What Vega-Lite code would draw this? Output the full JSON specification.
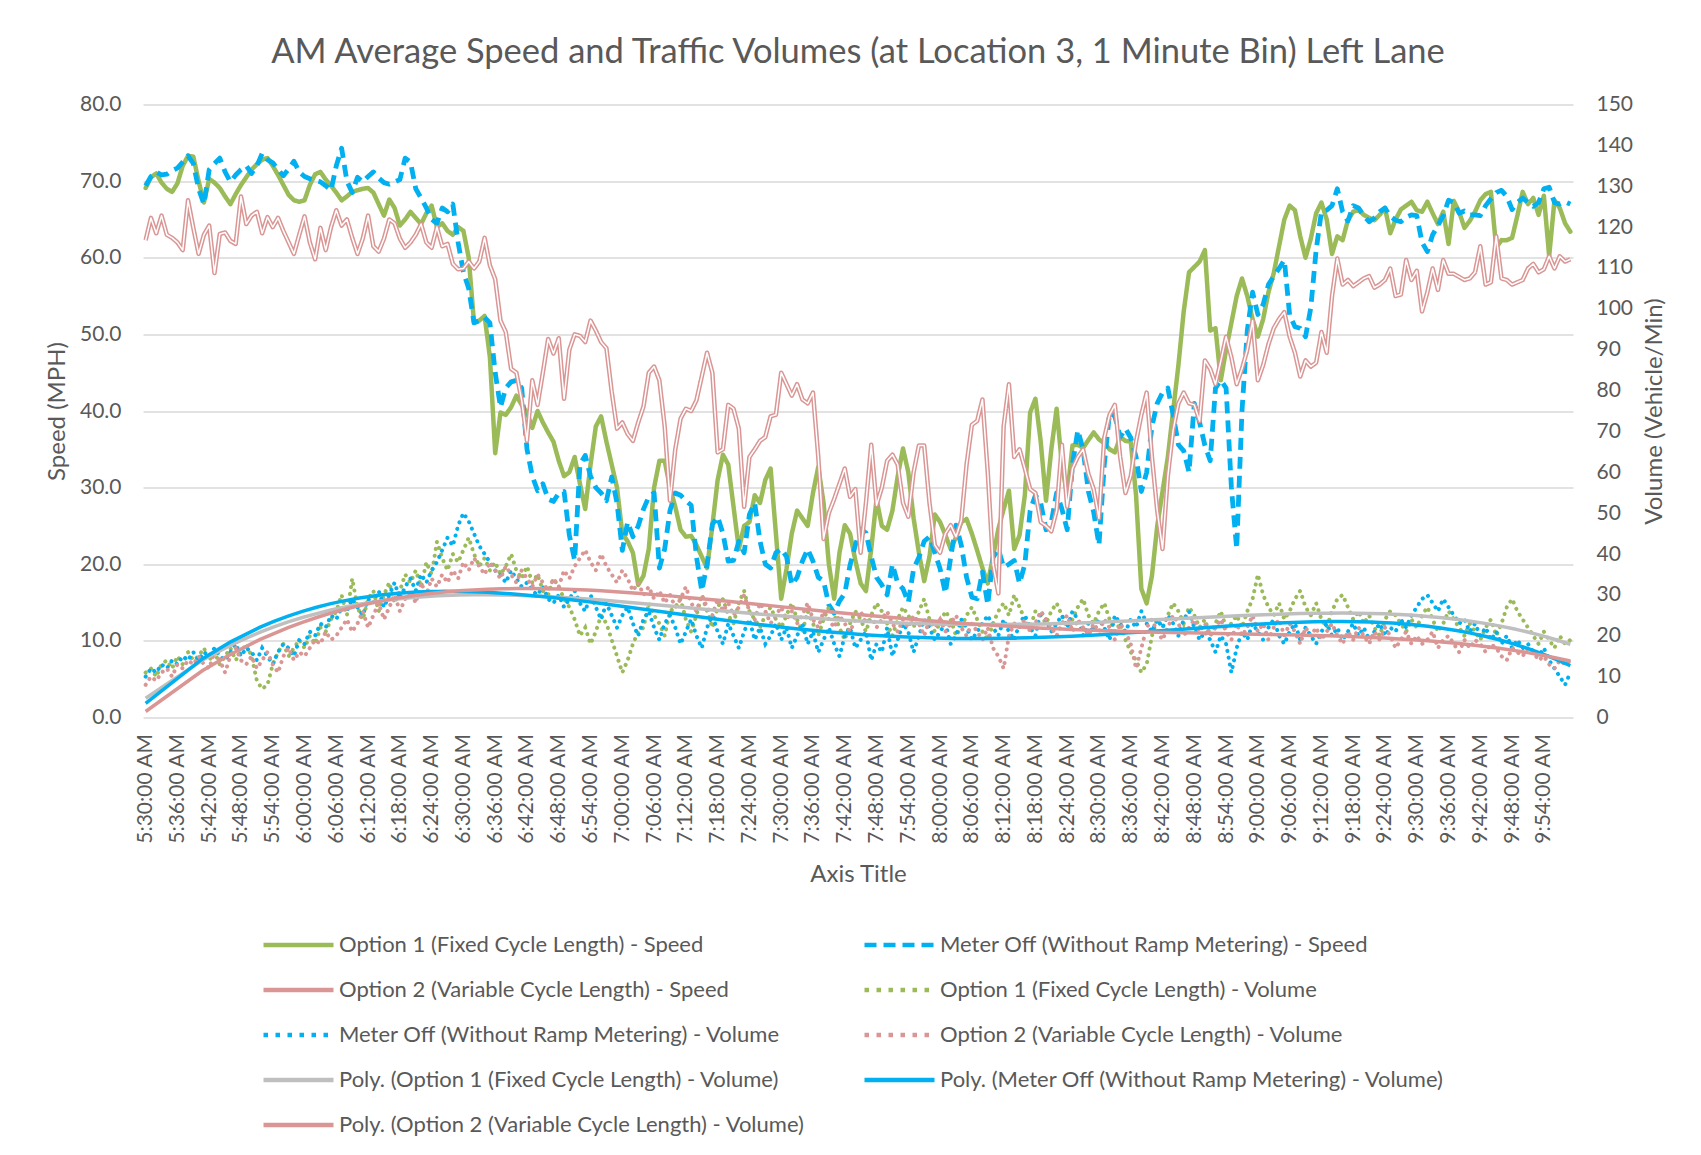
{
"$schema": "https://vega.github.io/schema/vega-lite/v6.json",
"width": 1430,
"height": 613,
"autosize": {"type": "none"},
"padding": {"left": 143, "top": 104.5, "right": 128, "bottom": 437.5},
"background": "#ffffff",
"title": {"text": "AM Average Speed and Traffic Volumes (at Location 3, 1 Minute Bin) Left Lane", "font": "Lato", "fontSize": 34.5, "fontWeight": "normal", "color": "#595959", "anchor": "middle", "frame": "group", "offset": 23},
"config": {
  "view": {"stroke": null},
  "font": "Lato",
  "axis": {"labelFont": "Lato", "titleFont": "Lato", "labelColor": "#595959", "titleColor": "#595959", "labelFontSize": 21, "titleFontSize": 24, "titleFontWeight": "normal"}
},
"data": {"values": [
{"m":0,"a":69.1,"b":69.4,"c":62.3,"p":11,"q":10,"r":8},
{"m":1,"a":70.5,"b":70.6,"c":65.2,"p":12,"q":12,"r":10},
{"m":2,"a":71.0,"b":71.2,"c":63.2,"p":10,"q":11,"r":9},
{"m":3,"a":69.8,"b":70.8,"c":65.5,"p":13,"q":13,"r":11},
{"m":4,"a":69.0,"b":70.9,"c":63.0,"p":14,"q":12,"r":12},
{"m":5,"a":68.6,"b":71.4,"c":62.6,"p":12,"q":14,"r":10},
{"m":6,"a":69.7,"b":71.7,"c":62.0,"p":15,"q":13,"r":13},
{"m":7,"a":72.0,"b":72.5,"c":61.0,"p":13,"q":15,"r":12},
{"m":8,"a":73.3,"b":73.3,"c":67.5,"p":16,"q":14,"r":14},
{"m":9,"a":73.2,"b":72.3,"c":63.9,"p":14,"q":16,"r":13},
{"m":10,"a":70.0,"b":69.0,"c":60.5,"p":15,"q":14,"r":15},
{"m":11,"a":67.2,"b":67.0,"c":63.0,"p":17,"q":16,"r":13},
{"m":12,"a":70.3,"b":71.5,"c":64.2,"p":14,"q":15,"r":12},
{"m":13,"a":69.8,"b":72.3,"c":58.0,"p":16,"q":17,"r":16},
{"m":14,"a":69.1,"b":73.0,"c":63.1,"p":13,"q":15,"r":14},
{"m":15,"a":68.0,"b":71.2,"c":63.3,"p":15,"q":14,"r":11},
{"m":16,"a":67.0,"b":69.9,"c":62.2,"p":17,"q":16,"r":15},
{"m":17,"a":68.3,"b":70.8,"c":61.8,"p":14,"q":18,"r":17},
{"m":18,"a":69.5,"b":71.5,"c":68.0,"p":16,"q":15,"r":14},
{"m":19,"a":70.5,"b":72.0,"c":64.4,"p":18,"q":17,"r":13},
{"m":20,"a":71.5,"b":71.0,"c":65.5,"p":15,"q":16,"r":15},
{"m":21,"a":72.2,"b":72.0,"c":66.0,"p":9,"q":14,"r":12},
{"m":22,"a":72.8,"b":73.6,"c":63.2,"p":7,"q":17,"r":14},
{"m":23,"a":73.0,"b":72.8,"c":65.3,"p":8,"q":15,"r":16},
{"m":24,"a":72.0,"b":72.4,"c":64.0,"p":13,"q":13,"r":13},
{"m":25,"a":70.8,"b":71.5,"c":65.2,"p":16,"q":16,"r":11},
{"m":26,"a":69.5,"b":70.7,"c":63.5,"p":18,"q":18,"r":15},
{"m":27,"a":68.2,"b":71.6,"c":62.0,"p":15,"q":17,"r":17},
{"m":28,"a":67.5,"b":72.6,"c":60.5,"p":17,"q":15,"r":14},
{"m":29,"a":67.3,"b":71.2,"c":63.0,"p":19,"q":19,"r":16},
{"m":30,"a":67.5,"b":70.6,"c":65.4,"p":17,"q":18,"r":15},
{"m":31,"a":69.5,"b":70.3,"c":62.0,"p":20,"q":21,"r":17},
{"m":32,"a":70.9,"b":70.1,"c":59.8,"p":18,"q":20,"r":19},
{"m":33,"a":71.2,"b":69.9,"c":63.9,"p":22,"q":23,"r":18},
{"m":34,"a":70.2,"b":69.4,"c":61.0,"p":21,"q":22,"r":21},
{"m":35,"a":69.4,"b":68.8,"c":64.0,"p":24,"q":25,"r":19},
{"m":36,"a":68.5,"b":72.0,"c":66.2,"p":26,"q":24,"r":20},
{"m":37,"a":67.5,"b":74.3,"c":64.2,"p":30,"q":27,"r":22},
{"m":38,"a":68.0,"b":70.0,"c":65.0,"p":25,"q":26,"r":24},
{"m":39,"a":68.6,"b":68.5,"c":62.6,"p":34,"q":29,"r":21},
{"m":40,"a":68.8,"b":70.5,"c":60.5,"p":27,"q":27,"r":23},
{"m":41,"a":69.0,"b":69.9,"c":62.5,"p":24,"q":25,"r":26},
{"m":42,"a":69.1,"b":70.6,"c":65.5,"p":29,"q":29,"r":22},
{"m":43,"a":68.5,"b":71.2,"c":61.5,"p":31,"q":28,"r":25},
{"m":44,"a":67.0,"b":70.4,"c":60.8,"p":26,"q":31,"r":28},
{"m":45,"a":65.5,"b":69.8,"c":62.5,"p":30,"q":27,"r":24},
{"m":46,"a":67.6,"b":69.6,"c":65.0,"p":33,"q":30,"r":27},
{"m":47,"a":66.5,"b":69.9,"c":64.5,"p":28,"q":33,"r":30},
{"m":48,"a":64.2,"b":70.2,"c":62.5,"p":31,"q":29,"r":26},
{"m":49,"a":65.0,"b":73.0,"c":61.3,"p":35,"q":32,"r":29},
{"m":50,"a":66.0,"b":72.5,"c":62.0,"p":33,"q":34,"r":31},
{"m":51,"a":65.2,"b":69.0,"c":63.0,"p":36,"q":31,"r":28},
{"m":52,"a":64.4,"b":67.8,"c":64.4,"p":32,"q":35,"r":33},
{"m":53,"a":65.8,"b":66.5,"c":62.0,"p":38,"q":33,"r":30},
{"m":54,"a":66.8,"b":65.0,"c":61.3,"p":35,"q":36,"r":34},
{"m":55,"a":64.0,"b":64.5,"c":64.0,"p":43,"q":38,"r":32},
{"m":56,"a":64.5,"b":66.5,"c":61.5,"p":39,"q":41,"r":35},
{"m":57,"a":63.5,"b":66.0,"c":61.8,"p":36,"q":44,"r":33},
{"m":58,"a":63.0,"b":67.0,"c":59.2,"p":40,"q":42,"r":36},
{"m":59,"a":64.0,"b":62.0,"c":58.5,"p":38,"q":47,"r":34},
{"m":60,"a":63.5,"b":58.1,"c":58.6,"p":41,"q":50,"r":38},
{"m":61,"a":60.0,"b":56.0,"c":59.5,"p":44,"q":48,"r":36},
{"m":62,"a":51.5,"b":51.5,"c":58.6,"p":40,"q":45,"r":39},
{"m":63,"a":51.8,"b":51.8,"c":59.5,"p":37,"q":42,"r":37},
{"m":64,"a":52.4,"b":52.2,"c":62.6,"p":39,"q":40,"r":35},
{"m":65,"a":47.0,"b":51.5,"c":59.0,"p":36,"q":38,"r":38},
{"m":66,"a":34.5,"b":45.0,"c":57.2,"p":38,"q":36,"r":36},
{"m":67,"a":39.8,"b":40.5,"c":51.8,"p":35,"q":35,"r":34},
{"m":68,"a":39.5,"b":43.0,"c":50.3,"p":37,"q":33,"r":37},
{"m":69,"a":40.5,"b":43.8,"c":45.5,"p":40,"q":36,"r":35},
{"m":70,"a":42.0,"b":44.0,"c":45.0,"p":36,"q":34,"r":33},
{"m":71,"a":40.8,"b":43.0,"c":41.4,"p":34,"q":32,"r":36},
{"m":72,"a":39.8,"b":35.0,"c":36.1,"p":37,"q":33,"r":34},
{"m":73,"a":37.8,"b":31.5,"c":44.0,"p":33,"q":31,"r":32},
{"m":74,"a":40.0,"b":29.6,"c":40.8,"p":35,"q":30,"r":35},
{"m":75,"a":38.5,"b":30.5,"c":45.0,"p":31,"q":32,"r":33},
{"m":76,"a":37.2,"b":28.5,"c":49.4,"p":30,"q":29,"r":31},
{"m":77,"a":36.0,"b":28.2,"c":47.5,"p":34,"q":28,"r":34},
{"m":78,"a":33.5,"b":29.3,"c":49.5,"p":32,"q":30,"r":32},
{"m":79,"a":31.5,"b":29.5,"c":41.6,"p":29,"q":27,"r":36},
{"m":80,"a":32.0,"b":23.8,"c":48.0,"p":27,"q":29,"r":34},
{"m":81,"a":34.0,"b":20.5,"c":50.0,"p":24,"q":31,"r":37},
{"m":82,"a":30.5,"b":33.0,"c":49.8,"p":20,"q":28,"r":39},
{"m":83,"a":27.2,"b":34.2,"c":49.0,"p":22,"q":26,"r":41},
{"m":84,"a":33.0,"b":31.5,"c":51.8,"p":18,"q":30,"r":38},
{"m":85,"a":38.0,"b":30.0,"c":50.5,"p":21,"q":27,"r":36},
{"m":86,"a":39.3,"b":29.3,"c":49.0,"p":25,"q":24,"r":40},
{"m":87,"a":36.0,"b":28.3,"c":48.2,"p":23,"q":28,"r":37},
{"m":88,"a":33.0,"b":31.4,"c":42.5,"p":19,"q":25,"r":35},
{"m":89,"a":30.0,"b":28.0,"c":37.7,"p":15,"q":22,"r":33},
{"m":90,"a":24.0,"b":21.8,"c":38.5,"p":11,"q":25,"r":36},
{"m":91,"a":23.0,"b":25.5,"c":37.0,"p":14,"q":27,"r":34},
{"m":92,"a":21.5,"b":23.6,"c":36.1,"p":18,"q":23,"r":31},
{"m":93,"a":17.3,"b":25.0,"c":38.5,"p":21,"q":20,"r":33},
{"m":94,"a":18.5,"b":27.2,"c":40.6,"p":22,"q":24,"r":30},
{"m":95,"a":22.0,"b":28.8,"c":45.0,"p":28,"q":26,"r":32},
{"m":96,"a":30.0,"b":29.3,"c":45.8,"p":25,"q":22,"r":29},
{"m":97,"a":33.5,"b":19.5,"c":44.0,"p":23,"q":19,"r":31},
{"m":98,"a":33.5,"b":22.0,"c":38.0,"p":20,"q":23,"r":28},
{"m":99,"a":30.0,"b":27.0,"c":28.3,"p":26,"q":25,"r":30},
{"m":100,"a":27.5,"b":29.3,"c":35.0,"p":27,"q":22,"r":27},
{"m":101,"a":24.5,"b":29.0,"c":39.0,"p":29,"q":18,"r":29},
{"m":102,"a":23.6,"b":28.3,"c":40.3,"p":24,"q":21,"r":32},
{"m":103,"a":23.7,"b":27.7,"c":40.0,"p":21,"q":24,"r":28},
{"m":104,"a":22.5,"b":21.0,"c":41.4,"p":25,"q":20,"r":26},
{"m":105,"a":21.0,"b":16.5,"c":44.5,"p":30,"q":17,"r":30},
{"m":106,"a":19.5,"b":20.0,"c":47.6,"p":26,"q":22,"r":27},
{"m":107,"a":25.0,"b":25.2,"c":45.0,"p":22,"q":25,"r":25},
{"m":108,"a":31.0,"b":26.2,"c":34.6,"p":27,"q":21,"r":29},
{"m":109,"a":34.3,"b":24.0,"c":35.0,"p":29,"q":18,"r":26},
{"m":110,"a":33.0,"b":20.4,"c":40.8,"p":25,"q":23,"r":28},
{"m":111,"a":27.5,"b":20.5,"c":40.3,"p":23,"q":20,"r":25},
{"m":112,"a":22.0,"b":23.0,"c":37.7,"p":28,"q":17,"r":27},
{"m":113,"a":25.0,"b":21.5,"c":27.5,"p":31,"q":21,"r":30},
{"m":114,"a":25.5,"b":26.5,"c":34.0,"p":26,"q":24,"r":26},
{"m":115,"a":29.0,"b":28.0,"c":35.0,"p":24,"q":19,"r":24},
{"m":116,"a":28.0,"b":23.0,"c":36.1,"p":22,"q":22,"r":28},
{"m":117,"a":31.0,"b":20.0,"c":36.6,"p":25,"q":18,"r":26},
{"m":118,"a":32.5,"b":19.5,"c":39.3,"p":27,"q":20,"r":23},
{"m":119,"a":24.0,"b":21.5,"c":39.5,"p":24,"q":23,"r":25},
{"m":120,"a":15.5,"b":22.0,"c":45.0,"p":22,"q":19,"r":27},
{"m":121,"a":19.4,"b":21.0,"c":43.5,"p":25,"q":22,"r":24},
{"m":122,"a":24.0,"b":17.3,"c":42.0,"p":28,"q":17,"r":26},
{"m":123,"a":27.0,"b":18.3,"c":43.5,"p":24,"q":20,"r":23},
{"m":124,"a":26.0,"b":20.4,"c":41.5,"p":21,"q":23,"r":25},
{"m":125,"a":25.0,"b":22.0,"c":41.0,"p":26,"q":18,"r":28},
{"m":126,"a":29.3,"b":20.4,"c":42.4,"p":23,"q":21,"r":24},
{"m":127,"a":32.7,"b":18.3,"c":34.0,"p":20,"q":16,"r":22},
{"m":128,"a":28.0,"b":17.8,"c":23.3,"p":24,"q":19,"r":26},
{"m":129,"a":20.0,"b":14.7,"c":26.7,"p":27,"q":22,"r":24},
{"m":130,"a":15.5,"b":13.6,"c":28.5,"p":25,"q":18,"r":22},
{"m":131,"a":21.5,"b":15.2,"c":30.5,"p":22,"q":15,"r":25},
{"m":132,"a":25.1,"b":16.2,"c":32.5,"p":19,"q":20,"r":23},
{"m":133,"a":24.0,"b":19.9,"c":28.8,"p":23,"q":22,"r":21},
{"m":134,"a":20.5,"b":22.5,"c":29.8,"p":26,"q":17,"r":24},
{"m":135,"a":17.5,"b":24.6,"c":21.5,"p":24,"q":19,"r":26},
{"m":136,"a":16.5,"b":24.1,"c":28.0,"p":21,"q":21,"r":23},
{"m":137,"a":22.0,"b":21.0,"c":35.6,"p":25,"q":14,"r":25},
{"m":138,"a":28.5,"b":18.3,"c":27.7,"p":28,"q":18,"r":22},
{"m":139,"a":25.0,"b":17.3,"c":30.0,"p":26,"q":16,"r":24},
{"m":140,"a":24.5,"b":16.0,"c":33.5,"p":23,"q":22,"r":26},
{"m":141,"a":27.0,"b":20.0,"c":34.3,"p":20,"q":15,"r":23},
{"m":142,"a":31.5,"b":17.5,"c":33.0,"p":24,"q":19,"r":21},
{"m":143,"a":35.1,"b":16.8,"c":28.0,"p":27,"q":23,"r":24},
{"m":144,"a":32.0,"b":15.0,"c":26.2,"p":25,"q":21,"r":22},
{"m":145,"a":26.0,"b":19.4,"c":32.0,"p":22,"q":16,"r":25},
{"m":146,"a":21.5,"b":20.9,"c":35.5,"p":26,"q":20,"r":23},
{"m":147,"a":17.8,"b":23.0,"c":35.5,"p":29,"q":24,"r":20},
{"m":148,"a":21.0,"b":23.6,"c":28.0,"p":24,"q":22,"r":24},
{"m":149,"a":26.5,"b":21.5,"c":22.5,"p":21,"q":19,"r":22},
{"m":150,"a":25.5,"b":19.4,"c":21.5,"p":23,"q":21,"r":24},
{"m":151,"a":23.8,"b":16.2,"c":24.0,"p":26,"q":23,"r":21},
{"m":152,"a":22.0,"b":20.9,"c":25.1,"p":24,"q":18,"r":23},
{"m":153,"a":23.5,"b":25.1,"c":23.6,"p":20,"q":20,"r":25},
{"m":154,"a":25.5,"b":22.5,"c":25.7,"p":22,"q":24,"r":22},
{"m":155,"a":25.9,"b":18.3,"c":33.0,"p":25,"q":22,"r":20},
{"m":156,"a":24.0,"b":15.7,"c":38.2,"p":27,"q":19,"r":23},
{"m":157,"a":21.8,"b":15.5,"c":38.7,"p":24,"q":21,"r":21},
{"m":158,"a":19.5,"b":19.0,"c":41.5,"p":21,"q":23,"r":19},
{"m":159,"a":17.5,"b":14.7,"c":32.0,"p":19,"q":25,"r":22},
{"m":160,"a":21.0,"b":20.9,"c":20.0,"p":23,"q":22,"r":17},
{"m":161,"a":24.6,"b":22.0,"c":16.2,"p":26,"q":20,"r":15},
{"m":162,"a":27.2,"b":19.6,"c":38.0,"p":28,"q":24,"r":12},
{"m":163,"a":29.6,"b":20.0,"c":43.5,"p":25,"q":21,"r":20},
{"m":164,"a":22.0,"b":20.5,"c":34.0,"p":30,"q":19,"r":23},
{"m":165,"a":23.8,"b":17.5,"c":35.0,"p":27,"q":23,"r":22},
{"m":166,"a":29.0,"b":20.0,"c":32.5,"p":24,"q":25,"r":24},
{"m":167,"a":39.8,"b":27.0,"c":29.8,"p":22,"q":22,"r":21},
{"m":168,"a":41.6,"b":29.0,"c":29.3,"p":26,"q":20,"r":23},
{"m":169,"a":36.0,"b":28.0,"c":25.5,"p":25,"q":26,"r":26},
{"m":170,"a":28.3,"b":24.5,"c":25.0,"p":23,"q":24,"r":24},
{"m":171,"a":35.0,"b":25.5,"c":24.3,"p":26,"q":21,"r":22},
{"m":172,"a":40.3,"b":29.3,"c":27.0,"p":28,"q":23,"r":20},
{"m":173,"a":33.0,"b":27.2,"c":35.6,"p":25,"q":25,"r":23},
{"m":174,"a":29.0,"b":24.5,"c":27.5,"p":22,"q":22,"r":25},
{"m":175,"a":35.5,"b":33.0,"c":32.5,"p":24,"q":26,"r":21},
{"m":176,"a":35.6,"b":37.5,"c":34.0,"p":27,"q":24,"r":24},
{"m":177,"a":35.2,"b":35.0,"c":35.0,"p":29,"q":20,"r":22},
{"m":178,"a":36.2,"b":29.5,"c":31.8,"p":25,"q":23,"r":20},
{"m":179,"a":37.2,"b":26.8,"c":29.8,"p":23,"q":21,"r":23},
{"m":180,"a":36.3,"b":22.5,"c":26.0,"p":26,"q":24,"r":21},
{"m":181,"a":35.8,"b":33.0,"c":36.5,"p":28,"q":22,"r":24},
{"m":182,"a":35.0,"b":39.8,"c":39.5,"p":24,"q":19,"r":22},
{"m":183,"a":34.6,"b":39.3,"c":40.8,"p":21,"q":25,"r":19},
{"m":184,"a":36.6,"b":36.6,"c":34.0,"p":23,"q":23,"r":23},
{"m":185,"a":36.1,"b":37.7,"c":29.3,"p":19,"q":21,"r":21},
{"m":186,"a":36.0,"b":36.5,"c":31.5,"p":16,"q":24,"r":18},
{"m":187,"a":29.0,"b":34.0,"c":36.0,"p":14,"q":22,"r":12},
{"m":188,"a":16.8,"b":29.5,"c":39.5,"p":11,"q":26,"r":17},
{"m":189,"a":14.9,"b":32.0,"c":42.4,"p":13,"q":23,"r":22},
{"m":190,"a":18.5,"b":38.0,"c":34.0,"p":20,"q":21,"r":24},
{"m":191,"a":25.0,"b":41.0,"c":27.0,"p":24,"q":24,"r":21},
{"m":192,"a":29.5,"b":42.4,"c":22.0,"p":22,"q":22,"r":19},
{"m":193,"a":34.0,"b":43.0,"c":31.5,"p":25,"q":25,"r":22},
{"m":194,"a":40.0,"b":39.5,"c":37.5,"p":28,"q":23,"r":25},
{"m":195,"a":46.0,"b":35.6,"c":41.0,"p":26,"q":20,"r":23},
{"m":196,"a":53.0,"b":34.8,"c":42.4,"p":23,"q":24,"r":20},
{"m":197,"a":58.1,"b":32.0,"c":41.0,"p":27,"q":26,"r":22},
{"m":198,"a":58.8,"b":41.0,"c":40.8,"p":25,"q":22,"r":24},
{"m":199,"a":59.5,"b":38.5,"c":38.7,"p":22,"q":19,"r":21},
{"m":200,"a":61.0,"b":35.5,"c":46.6,"p":24,"q":21,"r":23},
{"m":201,"a":50.5,"b":33.5,"c":45.5,"p":20,"q":19,"r":20},
{"m":202,"a":50.8,"b":43.0,"c":43.5,"p":23,"q":16,"r":22},
{"m":203,"a":44.0,"b":44.0,"c":46.5,"p":26,"q":20,"r":24},
{"m":204,"a":48.0,"b":43.0,"c":49.7,"p":22,"q":18,"r":21},
{"m":205,"a":51.5,"b":30.0,"c":47.0,"p":23,"q":11,"r":19},
{"m":206,"a":55.0,"b":22.0,"c":43.5,"p":25,"q":17,"r":23},
{"m":207,"a":57.3,"b":40.0,"c":45.5,"p":22,"q":21,"r":20},
{"m":208,"a":55.0,"b":50.5,"c":48.0,"p":26,"q":19,"r":22},
{"m":209,"a":52.0,"b":55.5,"c":51.8,"p":29,"q":23,"r":25},
{"m":210,"a":49.7,"b":52.6,"c":44.0,"p":35,"q":21,"r":21},
{"m":211,"a":52.0,"b":53.9,"c":46.0,"p":30,"q":19,"r":23},
{"m":212,"a":55.5,"b":56.5,"c":48.7,"p":27,"q":22,"r":19},
{"m":213,"a":58.0,"b":57.6,"c":50.8,"p":25,"q":24,"r":22},
{"m":214,"a":61.5,"b":58.6,"c":52.0,"p":28,"q":20,"r":24},
{"m":215,"a":65.0,"b":59.7,"c":52.9,"p":24,"q":18,"r":20},
{"m":216,"a":66.8,"b":52.5,"c":49.7,"p":26,"q":21,"r":23},
{"m":217,"a":66.2,"b":51.0,"c":47.6,"p":29,"q":23,"r":21},
{"m":218,"a":62.8,"b":50.8,"c":44.5,"p":31,"q":19,"r":18},
{"m":219,"a":60.0,"b":49.7,"c":46.6,"p":27,"q":22,"r":22},
{"m":220,"a":62.5,"b":53.5,"c":45.8,"p":25,"q":20,"r":20},
{"m":221,"a":65.8,"b":61.0,"c":46.3,"p":28,"q":18,"r":22},
{"m":222,"a":67.2,"b":66.0,"c":50.3,"p":24,"q":21,"r":19},
{"m":223,"a":65.0,"b":66.2,"c":47.6,"p":22,"q":23,"r":21},
{"m":224,"a":60.5,"b":66.8,"c":55.0,"p":26,"q":20,"r":23},
{"m":225,"a":62.8,"b":69.0,"c":59.9,"p":29,"q":22,"r":20},
{"m":226,"a":62.3,"b":66.0,"c":56.5,"p":30,"q":19,"r":18},
{"m":227,"a":64.9,"b":64.8,"c":57.1,"p":27,"q":21,"r":21},
{"m":228,"a":66.0,"b":66.8,"c":56.3,"p":24,"q":23,"r":19},
{"m":229,"a":66.2,"b":66.5,"c":56.8,"p":26,"q":20,"r":22},
{"m":230,"a":65.6,"b":65.5,"c":57.3,"p":23,"q":22,"r":20},
{"m":231,"a":65.2,"b":64.7,"c":57.6,"p":25,"q":19,"r":18},
{"m":232,"a":64.9,"b":65.2,"c":56.1,"p":22,"q":21,"r":21},
{"m":233,"a":65.6,"b":66.0,"c":56.5,"p":20,"q":23,"r":19},
{"m":234,"a":66.5,"b":66.5,"c":57.1,"p":24,"q":20,"r":22},
{"m":235,"a":63.2,"b":65.4,"c":58.6,"p":26,"q":22,"r":20},
{"m":236,"a":65.0,"b":64.9,"c":55.0,"p":25,"q":21,"r":17},
{"m":237,"a":66.3,"b":64.7,"c":55.2,"p":23,"q":24,"r":19},
{"m":238,"a":66.8,"b":65.3,"c":59.7,"p":21,"q":22,"r":21},
{"m":239,"a":67.3,"b":65.6,"c":57.1,"p":24,"q":25,"r":18},
{"m":240,"a":66.2,"b":65.5,"c":58.3,"p":22,"q":27,"r":20},
{"m":241,"a":66.0,"b":62.0,"c":53.0,"p":25,"q":29,"r":18},
{"m":242,"a":67.3,"b":60.8,"c":55.5,"p":27,"q":30,"r":19},
{"m":243,"a":65.8,"b":63.0,"c":58.6,"p":24,"q":28,"r":21},
{"m":244,"a":64.4,"b":64.2,"c":55.8,"p":21,"q":26,"r":17},
{"m":245,"a":66.0,"b":65.5,"c":59.7,"p":23,"q":29,"r":19},
{"m":246,"a":61.8,"b":67.5,"c":57.9,"p":26,"q":27,"r":20},
{"m":247,"a":67.4,"b":67.2,"c":57.9,"p":24,"q":25,"r":18},
{"m":248,"a":66.0,"b":65.8,"c":57.5,"p":22,"q":23,"r":16},
{"m":249,"a":63.9,"b":66.1,"c":57.1,"p":20,"q":24,"r":19},
{"m":250,"a":64.8,"b":65.6,"c":57.3,"p":23,"q":21,"r":17},
{"m":251,"a":66.0,"b":65.6,"c":58.1,"p":21,"q":23,"r":19},
{"m":252,"a":67.5,"b":65.5,"c":61.5,"p":19,"q":20,"r":18},
{"m":253,"a":68.3,"b":66.8,"c":56.5,"p":22,"q":22,"r":16},
{"m":254,"a":68.6,"b":67.7,"c":56.8,"p":24,"q":19,"r":18},
{"m":255,"a":61.3,"b":68.5,"c":62.8,"p":20,"q":21,"r":17},
{"m":256,"a":62.3,"b":68.8,"c":57.3,"p":23,"q":18,"r":15},
{"m":257,"a":62.3,"b":68.0,"c":57.1,"p":27,"q":20,"r":14},
{"m":258,"a":62.6,"b":66.3,"c":56.5,"p":29,"q":17,"r":17},
{"m":259,"a":65.5,"b":67.2,"c":56.8,"p":26,"q":19,"r":16},
{"m":260,"a":68.6,"b":67.8,"c":57.1,"p":24,"q":17,"r":15},
{"m":261,"a":67.0,"b":67.2,"c":58.6,"p":22,"q":18,"r":17},
{"m":262,"a":67.8,"b":66.7,"c":59.2,"p":20,"q":16,"r":16},
{"m":263,"a":65.6,"b":67.2,"c":58.1,"p":18,"q":15,"r":14},
{"m":264,"a":68.1,"b":69.0,"c":58.5,"p":21,"q":17,"r":15},
{"m":265,"a":60.2,"b":69.2,"c":60.2,"p":19,"q":14,"r":13},
{"m":266,"a":67.5,"b":67.2,"c":58.6,"p":17,"q":12,"r":12},
{"m":267,"a":66.5,"b":67.0,"c":60.2,"p":20,"q":10,"r":14},
{"m":268,"a":64.5,"b":67.3,"c":59.5,"p":18,"q":8,"r":13},
{"m":269,"a":63.4,"b":67.0,"c":59.8,"p":19,"q":11,"r":14}
]},
"encoding": {
  "x": {"field": "m", "type": "quantitative",
    "scale": {"domain": [-0.5, 269.5], "nice": false, "zero": false},
    "axis": {"values": [0,6,12,18,24,30,36,42,48,54,60,66,72,78,84,90,96,102,108,114,120,126,132,138,144,150,156,162,168,174,180,186,192,198,204,210,216,222,228,234,240,246,252,258,264],
      "labelExpr": "floor((datum.value+330)/60) + ':' + ((datum.value+330)%60 < 10 ? '0' : '') + ((datum.value+330)%60) + ':00 AM'",
      "labelAngle": 270, "labelPadding": 16, "labelOverlap": false, "labelFlush": false,
      "ticks": false, "domain": false, "grid": false,
      "title": "Axis Title", "titlePadding": 19}}
},
"layer": [
  {"layer": [
    {"mark": {"type": "line", "strokeWidth": 4.5, "strokeJoin": "round", "strokeCap": "round"},
     "encoding": {
       "y": {"field": "a", "type": "quantitative", "scale": {"domain": [0, 80], "nice": false, "zero": true},
         "axis": {"orient": "left", "values": [0,10,20,30,40,50,60,70,80], "format": ".1f", "grid": true, "gridColor": "#D9D9D9", "gridWidth": 1.5, "domain": false, "ticks": false, "labelPadding": 22, "title": "Speed (MPH)", "titlePadding": 10}},
       "color": {"datum": "Option 1 (Fixed Cycle Length) - Speed", "type": "nominal",
         "scale": {"domain": ["Option 1 (Fixed Cycle Length) - Speed", "Meter Off (Without Ramp Metering) - Speed", "Option 2 (Variable Cycle Length) - Speed", "Option 1 (Fixed Cycle Length) - Volume", "Meter Off (Without Ramp Metering) - Volume", "Option 2 (Variable Cycle Length) - Volume", "Poly. (Option 1 (Fixed Cycle Length) - Volume)", "Poly. (Meter Off (Without Ramp Metering) - Volume)", "Poly. (Option 2 (Variable Cycle Length) - Volume)"],
           "range": ["#9BBB59", "#00B0F0", "#D99694", "#9BBB59", "#00B0F0", "#D99694", "#BFBFBF", "#00B0F0", "#D99694"]},
         "legend": {"orient": "none", "legendX": 118, "legendY": 818, "direction": "horizontal", "columns": 2, "title": null,
           "symbolType": "stroke", "symbolSize": 4900, "symbolStrokeWidth": 4.5, "clipHeight": 45,
           "labelFont": "Lato", "labelFontSize": 22, "labelColor": "#595959", "labelLimit": 0, "labelOffset": 3,
           "rowPadding": 0, "columnPadding": 57, "padding": 0}},
       "strokeDash": {"datum": "Option 1 (Fixed Cycle Length) - Speed", "type": "nominal",
         "scale": {"domain": ["Option 1 (Fixed Cycle Length) - Speed", "Meter Off (Without Ramp Metering) - Speed", "Option 2 (Variable Cycle Length) - Speed", "Option 1 (Fixed Cycle Length) - Volume", "Meter Off (Without Ramp Metering) - Volume", "Option 2 (Variable Cycle Length) - Volume", "Poly. (Option 1 (Fixed Cycle Length) - Volume)", "Poly. (Meter Off (Without Ramp Metering) - Volume)", "Poly. (Option 2 (Variable Cycle Length) - Volume)"],
           "range": [[1, 0], [12, 7], [1, 0], [4.5, 7.5], [4.5, 7.5], [4.5, 7.5], [1, 0], [1, 0], [1, 0]]}}
     }},
    {"mark": {"type": "line", "strokeWidth": 4.8, "strokeJoin": "round"},
     "encoding": {"y": {"field": "b", "type": "quantitative"}, "color": {"datum": "Meter Off (Without Ramp Metering) - Speed", "type": "nominal"}, "strokeDash": {"datum": "Meter Off (Without Ramp Metering) - Speed", "type": "nominal"}}},
    {"mark": {"type": "line", "strokeWidth": 4.5, "strokeJoin": "round"},
     "encoding": {"y": {"field": "c", "type": "quantitative"}, "color": {"datum": "Option 2 (Variable Cycle Length) - Speed", "type": "nominal"}, "strokeDash": {"datum": "Option 2 (Variable Cycle Length) - Speed", "type": "nominal"}}},
    {"mark": {"type": "line", "strokeWidth": 1.5, "stroke": "#ffffff", "strokeJoin": "round"},
     "encoding": {"y": {"field": "c", "type": "quantitative"}}}
  ]},
  {"layer": [
    {"mark": {"type": "line", "strokeWidth": 4, "strokeDash": [0.1, 6.8], "strokeCap": "round"},
     "encoding": {
       "y": {"field": "p", "type": "quantitative", "scale": {"domain": [0, 150], "nice": false, "zero": true},
         "axis": {"orient": "right", "values": [0,10,20,30,40,50,60,70,80,90,100,110,120,130,140,150], "format": "d", "grid": false, "domain": false, "ticks": false, "labelPadding": 23, "title": "Volume (Vehicle/Min)", "titleAngle": 270, "titleBaseline": "top", "titlePadding": 10}},
       "color": {"datum": "Option 1 (Fixed Cycle Length) - Volume", "type": "nominal"}}},
    {"mark": {"type": "line", "strokeWidth": 4, "strokeDash": [0.1, 6.8], "strokeCap": "round"},
     "encoding": {"y": {"field": "q", "type": "quantitative"}, "color": {"datum": "Meter Off (Without Ramp Metering) - Volume", "type": "nominal"}}},
    {"mark": {"type": "line", "strokeWidth": 4, "strokeDash": [0.1, 6.8], "strokeCap": "round"},
     "encoding": {"y": {"field": "r", "type": "quantitative"}, "color": {"datum": "Option 2 (Variable Cycle Length) - Volume", "type": "nominal"}}},
    {"transform": [{"regression": "p", "on": "m", "method": "poly", "order": 4}],
     "mark": {"type": "line", "strokeWidth": 3.5},
     "encoding": {"y": {"field": "p", "type": "quantitative"}, "color": {"datum": "Poly. (Option 1 (Fixed Cycle Length) - Volume)", "type": "nominal"}}},
    {"transform": [{"regression": "q", "on": "m", "method": "poly", "order": 4}],
     "mark": {"type": "line", "strokeWidth": 3.5},
     "encoding": {"y": {"field": "q", "type": "quantitative"}, "color": {"datum": "Poly. (Meter Off (Without Ramp Metering) - Volume)", "type": "nominal"}}},
    {"transform": [{"regression": "r", "on": "m", "method": "poly", "order": 4}],
     "mark": {"type": "line", "strokeWidth": 3.5},
     "encoding": {"y": {"field": "r", "type": "quantitative"}, "color": {"datum": "Poly. (Option 2 (Variable Cycle Length) - Volume)", "type": "nominal"}}}
  ]}
],
"resolve": {"scale": {"y": "independent"}}
}
